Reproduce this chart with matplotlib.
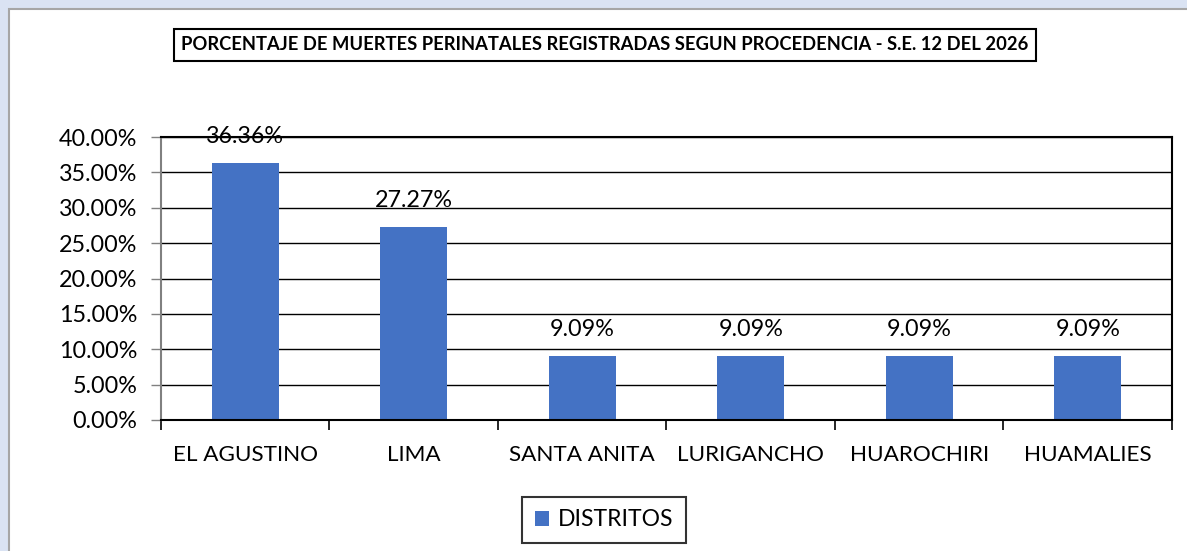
import matplotlib
matplotlib.use('Agg')
import matplotlib.pyplot as plt
from matplotlib.patches import Rectangle
from matplotlib.ticker import FuncFormatter, MultipleLocator

distritos = ['EL AGUSTINO', 'LIMA', 'SANTA ANITA', 'LURIGANCHO', 'HUAROCHIRI', 'HUAMALIES']
porcentajes = [36.36, 27.27, 9.09, 9.09, 9.09, 9.09]
titulo = 'PORCENTAJE DE MUERTES PERINATALES REGISTRADAS SEGUN PROCEDENCIA - S.E. 12 DEL 2026'

plt.rcParams['font.family'] = ['Lato', 'DejaVu Sans']

W, H = 1187, 551
fig = plt.figure(figsize=(W / 100, H / 100), dpi=100)
fig.patch.set_facecolor('#dae3f3')

# white chart area with gray border
fig.patches.append(Rectangle((9 / W, -0.05), 1.1, 1 - 9 / H + 0.05, transform=fig.transFigure,
                             facecolor='white', edgecolor='#a6a6a6', linewidth=1.5, zorder=-5))

ax = fig.add_axes([161 / W, 1 - 420 / H, (1172 - 161) / W, (420 - 137) / H])
ax.set_facecolor('white')
x = range(len(distritos))
bars = ax.bar(x, porcentajes, width=0.4, color='#4472c4', zorder=2, label='DISTRITOS')

ax.set_xlim(-0.5, len(distritos) - 0.5)
ax.set_ylim(0, 40)
ax.yaxis.set_major_locator(MultipleLocator(5))
ax.yaxis.set_major_formatter(FuncFormatter(lambda v, p: f'{v:.2f}%'))
ax.grid(axis='y', color='black', linewidth=1.0, zorder=1)
ax.set_axisbelow(True)

ax.set_xticks(x)
ax.set_xticklabels(distritos, fontsize=16.2)
ax.tick_params(axis='x', length=0, pad=18)
ax.set_xticks([i - 0.5 for i in range(len(distritos) + 1)], minor=True)
ax.tick_params(axis='x', which='minor', length=7, width=1.2, color='black', direction='out')
ax.tick_params(axis='y', labelsize=16.8, length=7, color='#808080', width=1, pad=10)

for s in ['top', 'right', 'bottom']:
    ax.spines[s].set_color('black')
    ax.spines[s].set_linewidth(1.5)
ax.spines['left'].set_color('#808080')
ax.spines['left'].set_linewidth(1.5)

for b, v in zip(bars, porcentajes):
    ax.annotate(f'{v:.2f}%', (b.get_x() + b.get_width() / 2, v), xytext=(0, 19), textcoords='offset points',
                ha='center', va='center', fontsize=16.8, zorder=3, annotation_clip=False)

fig.text(605 / W, 1 - 45 / H, titulo, ha='center', va='center', fontsize=13.2, fontweight='bold',
         bbox=dict(boxstyle='square,pad=0.4', facecolor='white', edgecolor='black', linewidth=1.5))

leg = fig.legend(loc='center', bbox_to_anchor=(604 / W, 1 - 520 / H), fontsize=16.5,
                 frameon=True, fancybox=False, edgecolor='black', handlelength=0.6, handleheight=0.6,
                 borderpad=0.55, handletextpad=0.4)
leg.get_frame().set_linewidth(1.5)

fig.savefig('out.png', dpi=100)
